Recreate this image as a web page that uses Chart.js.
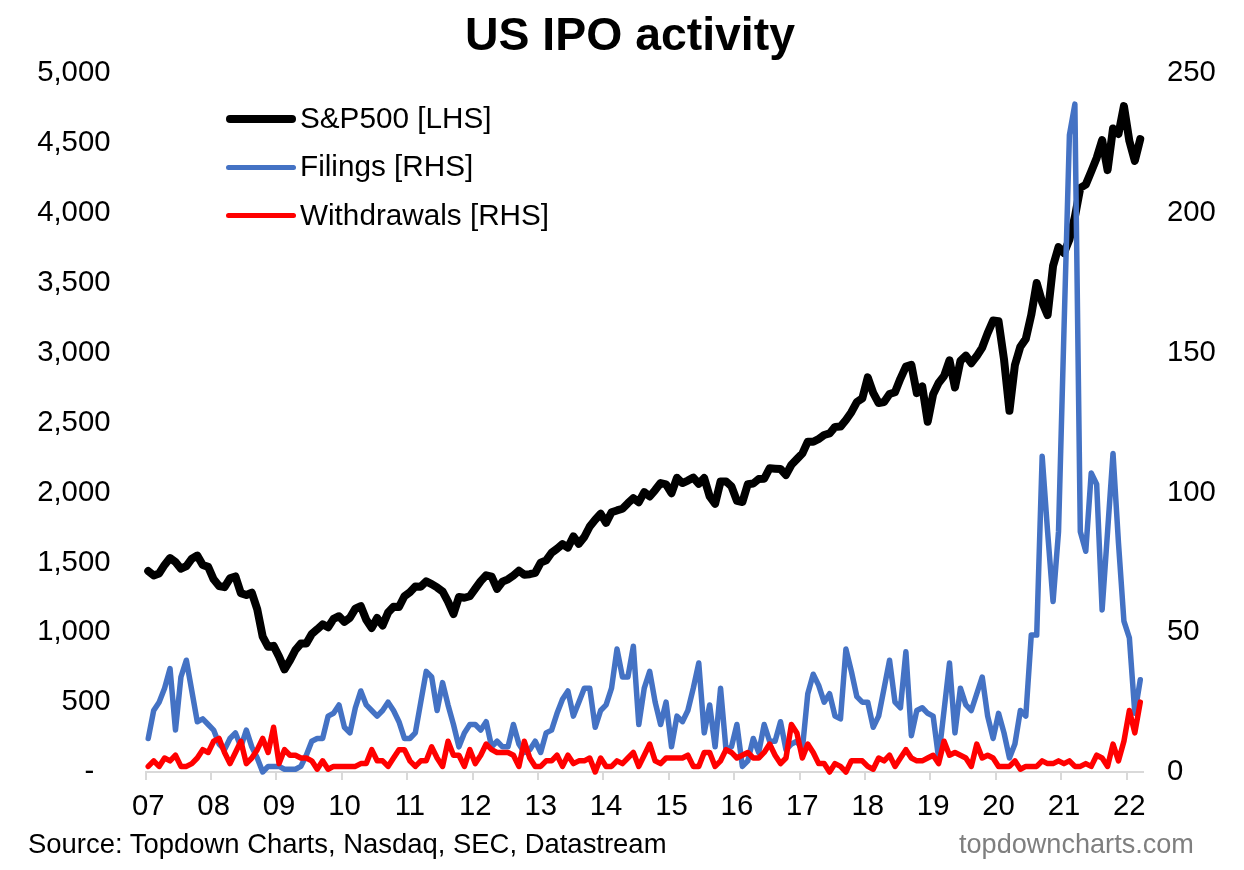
<!DOCTYPE html>
<html>
<head>
<meta charset="utf-8">
<title>US IPO activity</title>
<script src="https://cdn.jsdelivr.net/npm/chart.js@4/dist/chart.umd.min.js"></script>
<style>
  html, body { margin: 0; padding: 0; background: #fff; overflow: hidden; }
  #wrap { position: relative; width: 1244px; height: 870px; font-family: "Liberation Sans", Arial, sans-serif; }
  canvas { position: absolute; left: 0; top: 0; }
  .note { position: absolute; line-height: 30px; white-space: nowrap; }
  .key { position: absolute; left: 300px; font-size: 29.7px; line-height: 34px; color: #000; white-space: nowrap; }
  .swatch { position: absolute; left: 226px; width: 70px; border-radius: 4px; }
</style>
</head>
<body>
<div id="wrap">
  <canvas id="context" width="1244" height="870"></canvas>
  <div class="swatch" style="top:115px;height:8px;background:#000"></div>
  <div class="swatch" style="top:165px;height:5px;background:#4472c4"></div>
  <div class="swatch" style="top:213px;height:5px;background:#ff0000"></div>
  <div class="key" style="top:101px">S&amp;P500 [LHS]</div>
  <div class="key" style="top:149px">Filings [RHS]</div>
  <div class="key" style="top:198px">Withdrawals [RHS]</div>
  <div class="note" style="left:28px;top:829px;color:#000;font-size:27.45px">Source: Topdown Charts, Nasdaq, SEC, Datastream</div>
  <div class="note" style="left:959px;top:829px;color:#7f7f7f;font-size:27.1px">topdowncharts.com</div>
</div>
<script>
const years = ['07','08','09','10','11','12','13','14','15','16','17','18','19','20','21','22'];
const monthsInLastYear = 3;

// month end closes, Jan 07 to Mar 22
const sp500 = [
  1438,1407,1421,1482,1531,1503,1455,1474,1527,1549,1481,1468,
  1379,1331,1323,1386,1400,1280,1267,1283,1165,969,896,903,
  826,735,798,873,919,919,987,1021,1057,1036,1096,1115,
  1074,1104,1169,1187,1089,1031,1102,1049,1141,1183,1181,1258,
  1286,1327,1326,1364,1345,1321,1292,1219,1131,1253,1247,1258,
  1312,1366,1408,1398,1310,1362,1379,1407,1441,1412,1416,1426,
  1498,1515,1569,1598,1631,1606,1686,1633,1682,1757,1806,1848,
  1783,1859,1872,1884,1924,1960,1931,2003,1972,2018,2068,2059,
  1995,2105,2068,2086,2107,2063,2104,1972,1920,2079,2080,2044,
  1940,1932,2060,2065,2097,2099,2174,2171,2168,2126,2199,2239,
  2279,2364,2363,2384,2412,2423,2470,2472,2519,2575,2648,2674,
  2824,2714,2641,2648,2705,2718,2816,2902,2914,2712,2760,2507,
  2704,2784,2834,2946,2752,2942,2980,2926,2977,3038,3141,3231,
  3226,2954,2585,2912,3044,3100,3271,3500,3363,3270,3622,3756,
  3714,3811,3973,4181,4204,4298,4395,4523,4308,4605,4567,4766,
  4516,4374,4530
];
const filings = [
  12,22,25,30,37,15,34,40,29,18,19,17,
  15,10,8,12,14,9,15,9,5,0,2,2,
  2,1,1,1,2,6,11,12,12,20,21,24,
  16,14,23,29,24,22,20,22,25,22,18,12,
  12,14,25,36,34,22,32,24,17,9,14,17,
  17,15,18,9,11,9,9,17,10,7,8,11,
  7,14,15,21,26,29,20,25,30,30,16,22,
  24,30,44,34,34,45,17,30,36,25,17,25,
  9,20,18,22,30,39,14,24,9,30,8,9,
  17,2,4,12,7,17,11,11,18,8,10,11,
  8,28,35,31,25,28,20,19,44,36,27,25,
  25,16,20,30,40,25,23,43,13,22,23,21,
  20,5,22,39,14,30,24,22,28,34,20,12,
  21,14,5,10,22,20,49,49,113,86,61,86,
  158,228,239,86,79,107,103,58,86,114,82,54,
  48,21,33
];
const withdrawals = [
  2,4,2,5,4,6,2,2,3,5,8,7,
  11,12,7,3,7,11,3,5,8,12,7,16,
  3,8,6,6,5,5,4,1,4,1,2,2,
  2,2,2,3,3,8,4,4,2,5,8,8,
  4,2,4,4,9,5,2,11,6,6,2,8,
  3,6,10,8,7,7,7,6,2,11,5,2,
  2,4,4,6,2,6,3,4,4,5,0,5,
  2,2,4,3,5,7,2,6,10,4,3,5,
  5,5,5,6,2,2,7,7,2,4,8,7,
  5,6,7,5,5,7,10,6,3,5,17,14,
  5,10,7,3,3,0,3,2,0,4,4,4,
  2,1,5,4,6,2,5,8,5,4,4,5,
  6,3,11,6,7,6,5,2,10,5,6,5,
  2,2,2,4,1,2,2,2,4,3,3,4,
  3,4,2,2,3,2,6,5,2,10,4,11,
  22,14,25
];

const labels = [];
for (let y = 0; y < years.length; y++) {
  let count = y == years.length - 1 ? monthsInLastYear : 12;
  for (let m = 0; m < count; m++) {
    labels.push(m == 0 ? years[y] : '');
  }
}

const tickFont = { family: '"Liberation Sans", Arial, sans-serif', size: 29.3 };

function line(label, data, color, width, axis, order) {
  return {
    label: label, data: data, yAxisID: axis, order: order,
    borderColor: color, backgroundColor: color, borderWidth: width,
    pointRadius: 0, tension: 0, clip: false,
    borderCapStyle: 'round', borderJoinStyle: 'round'
  };
}

const cht = new Chart(document.getElementById('context'), {
  type: 'line',
  data: {
    labels: labels,
    datasets: [
      line('S&P500 [LHS]', sp500, '#000000', 8, 'y', 3),
      line('Filings [RHS]', filings, '#4472c4', 5.5, 'y1', 2),
      line('Withdrawals [RHS]', withdrawals, '#ff0000', 5.5, 'y1', 1)
    ]
  },
  options: {
    responsive: false,
    animation: false,
    devicePixelRatio: 1,
    layout: { padding: { left: 16 } },
    plugins: {
      legend: { display: false },
      tooltip: { enabled: false },
      title: {
        display: true,
        text: 'US IPO activity',
        color: '#000',
        font: { family: tickFont.family, size: 46.4, weight: 'bold', lineHeight: 1 },
        padding: { top: 14, bottom: 13 }
      }
    },
    scales: {
      x: {
        offset: true,
        grid: {
          offset: true,
          drawOnChartArea: false,
          tickLength: 8,
          lineWidth: 2,
          tickColor: (c) => (c.index % 12 == 0 ? '#d9d9d9' : 'transparent')
        },
        border: { color: '#d9d9d9', width: 2 },
        ticks: { autoSkip: false, maxRotation: 0, color: '#000', font: tickFont, padding: 9 },
        afterFit: (s) => { s.height = 98; }
      },
      y: {
        position: 'left', min: 0, max: 5000,
        grid: { display: false, drawTicks: false },
        border: { display: false },
        ticks: {
          stepSize: 500, color: '#000', font: tickFont, padding: 35,
          // zero shows as a dash, set in from the right like an accounting format
          callback: (v) => (v == 0 ? '-  ' : v.toLocaleString('en-US'))
        },
        afterFit: (s) => { s.width = 129.5; }
      },
      y1: {
        position: 'right', min: 0, max: 250,
        grid: { display: false, drawTicks: false },
        border: { display: false },
        ticks: { stepSize: 50, color: '#000', font: tickFont, padding: 24 },
        afterFit: (s) => { s.width = 101; }
      }
    }
  }
});
</script>
</body>
</html>
